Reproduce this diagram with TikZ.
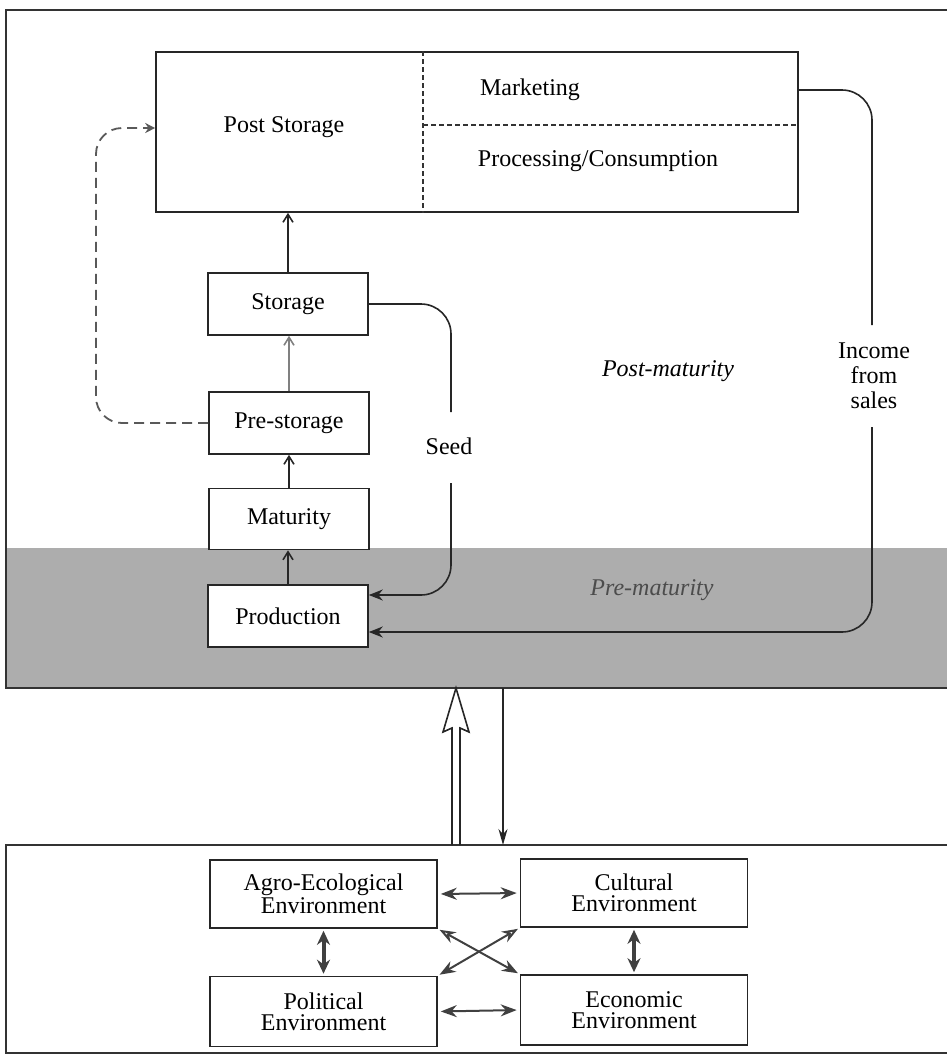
\documentclass[tikz,border=0pt]{standalone}
\usepackage{fontspec}
\setmainfont{Liberation Serif}
\usetikzlibrary{arrows.meta,calc}
\begin{document}
\begin{tikzpicture}[x=0.5pt,y=-0.5pt,
  frame/.style={draw=black!80, line width=0.9pt},
  box/.style={draw=black!85, line width=0.8pt, fill=white, inner sep=0pt, font=\fontsize{12}{13}\selectfont},
  stage/.style={box, minimum width=80pt, minimum height=31pt},
  env/.style={box, minimum width=113.5pt, minimum height=34pt, align=center, font=\fontsize{12}{10.5}\selectfont},
  lbl/.style={inner sep=1pt, align=center, font=\fontsize{12}{12.5}\selectfont},
  divider/.style={draw=black!80, line width=0.7pt, dash pattern=on 2.5pt off 1.5pt},
  upar/.style={draw=black!85, line width=0.8pt, -{Straight Barb[length=4pt,width=5pt]}},
  conn/.style={draw=black!85, line width=0.8pt, rounded corners=15pt},
  fat/.style={-{Stealth[length=7pt,width=5.5pt]}},
  dashconn/.style={draw=black!65, line width=0.9pt, dash pattern=on 5pt off 3pt, rounded corners=13pt, -{Stealth[length=5pt,width=5pt]}},
  envar/.style={draw=black!75, line width=1pt, {Stealth[length=8pt,width=6pt]}-{Stealth[length=8pt,width=6pt]}, shorten <=1.5pt, shorten >=1.5pt},
  envarv/.style={draw=black!75, line width=2pt, {Stealth[length=7pt,width=6.5pt]}-{Stealth[length=7pt,width=6.5pt]}, shorten <=1pt, shorten >=1pt},
  envard/.style={draw=black!75, line width=1pt, {Stealth[open,length=8pt,width=6pt]}-{Stealth[length=8pt,width=6pt]}, shorten <=1pt, shorten >=1pt}
]
\useasboundingbox (0,0) rectangle (947,1057);
% pre-maturity band
\fill[black!32] (6,548) rectangle (947,688);
\draw[frame] (947,10) -- (6,10) -- (6,688) -- (947,688);
\draw[frame] (947,845) -- (6,845) -- (6,1053) -- (947,1053);

% post storage box
\node[box, minimum width=321pt, minimum height=80pt] (post) at (477,132) {};
\coordinate (dv) at (423,132);
\draw[divider] (dv |- post.north) -- (dv |- post.south);
\coordinate (dh) at (423,125);
\draw[divider] (dh) -- (dh -| post.east);
\node[lbl] (pst) at (284,127) {Post Storage};
\node[lbl] (mkt) at (530,90) {Marketing};
\node[lbl] (proc) at (598,161) {Processing/Consumption};

% stages
\node[stage] (storage) at (288,304) {Storage};
\node[stage] (prestorage) at (289,423) {Pre-storage};
\node[stage, minimum height=30.5pt] (maturity) at (289,519) {Maturity};
\node[stage] (production) at (288,616) {Production};

\draw[upar] (storage.north) -- (storage.north |- post.south);
\draw[upar, draw=black!50] (prestorage.north) -- (prestorage.north |- storage.south);
\draw[upar] (maturity.north) -- (maturity.north |- prestorage.south);
\draw[upar] (production.north) -- (production.north |- maturity.south);

% dashed feedback
\coordinate (dl) at (96,300);
\draw[dashconn] (prestorage.west) -| (dl) |- ($(post.west)+(0,-4)$);

% labels
\node[lbl, font=\fontsize{12}{13}\selectfont\itshape] (postmat) at (668,371) {Post-maturity};
\node[lbl, font=\fontsize{12}{13}\selectfont\itshape, text=black!70] (premat) at (652,590) {Pre-maturity};

% seed
\coordinate (s1) at (451,412);
\coordinate (s2) at (451,483);
\node[lbl] (seed) at (449,446) {Seed};
\draw[conn] (storage.east) -| (s1);
\draw[conn, fat] (s2) |- ($(production.east)+(0,-21)$);

% income
\coordinate (i1) at (872,325);
\coordinate (i2) at (872,427);
\node[lbl] (income) at (874,376) {Income\\from\\sales};
\draw[conn] (post.east |- mkt) -| (i1);
\draw[conn, fat] (i2) |- ($(production.east)+(0,16)$);

% links between band and environment frame
\coordinate (dtop) at (456,688);
\coordinate (dbot) at (456,845);
\draw[draw=black!85, line width=0.8pt, line join=miter]
  ($(dbot)+(-4,0)$) -- ($(dtop)+(-4,40)$) -- ($(dtop)+(-13,44)$) -- (dtop)
  -- ($(dtop)+(13,44)$) -- ($(dtop)+(4,40)$) -- ($(dbot)+(4,0)$);
\coordinate (ntop) at (503,688);
\coordinate (nbot) at (503,845);
\draw[draw=black!85, line width=0.8pt, -{Stealth[length=8pt,width=4.5pt]}] (ntop) -- (nbot);

% environments
\node[env] (agro) at (323.5,894) {Agro-Ecological\\Environment};
\node[env] (cultural) at (634,893) {Cultural\\Environment};
\node[env, minimum height=35pt] (political) at (323.5,1011.5) {Political\\Environment};
\node[env, minimum height=35pt] (economic) at (634,1010) {Economic\\Environment};

\draw[envar] (agro.east) -- (cultural.west);
\draw[envar] (political.east) -- (economic.west);
\draw[envarv] (agro.south) -- (political.north);
\draw[envarv] (cultural.south) -- (economic.north);
\draw[envard] (agro.south east) -- (economic.north west);
\draw[envard] (cultural.south west) -- (political.north east);
\end{tikzpicture}
\end{document}
